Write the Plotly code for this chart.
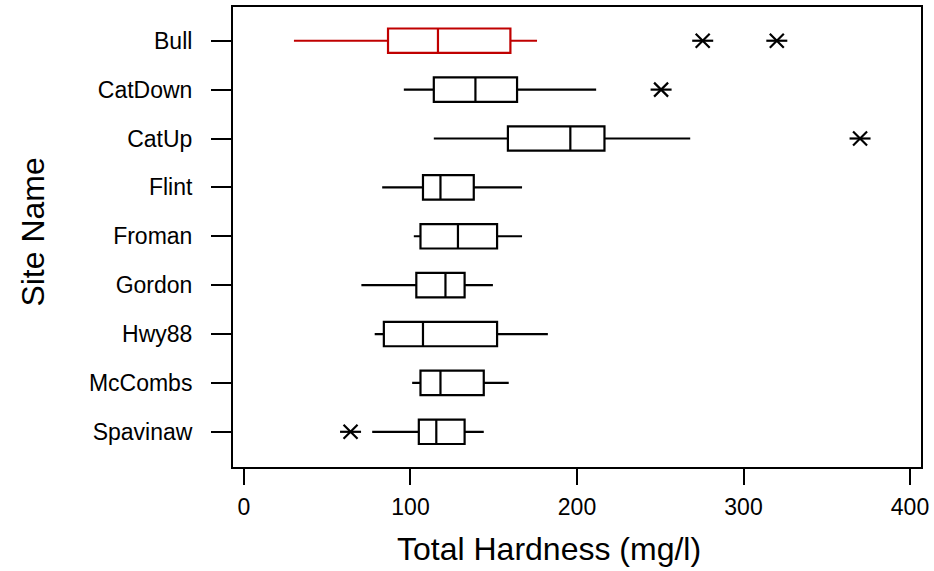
import plotly.graph_objects as go

sites = ["Bull", "CatDown", "CatUp", "Flint", "Froman", "Gordon", "Hwy88", "McCombs", "Spavinaw"]
lower_whisker = [30, 96, 114, 83, 102, 70.5, 78.5, 101, 77]
q1 = [86.5, 114, 158.5, 107.5, 106, 103.5, 84, 106, 105]
median = [116.5, 139, 196, 118, 128.5, 121, 107.5, 118, 115.5]
q3 = [160, 164, 216.5, 138, 152, 132.5, 152, 144, 132.5]
upper_whisker = [176, 211.5, 268, 167, 167, 149.5, 182.5, 159, 144]
outlier_sites = ["Bull", "Bull", "CatDown", "CatUp", "Spavinaw"]
outlier_values = [275.5, 320, 250.5, 370, 64]
box_colors = ["#C00000"] + ["#000000"] * 8

FONT = "Liberation Sans, Arial, sans-serif"

L, R, T, B = 233, 11, 5, 104
W, H = 934, 571

fig = go.Figure()
for i, s in enumerate(sites):
    fig.add_trace(go.Box(
        y=[s], orientation="h",
        q1=[q1[i]], median=[median[i]], q3=[q3[i]],
        lowerfence=[lower_whisker[i]], upperfence=[upper_whisker[i]],
        fillcolor="white", line=dict(color=box_colors[i], width=2.2),
        whiskerwidth=0, width=0.5, boxpoints=False,
        showlegend=False, hoverinfo="skip",
    ))

for sym in ["x-thin-open", "line-ew-open"]:
    fig.add_trace(go.Scatter(
        x=outlier_values, y=outlier_sites, mode="markers",
        marker=dict(symbol=sym, size=14 if sym == "x-thin-open" else 15,
                    color="black", line=dict(color="black", width=2.2)),
        showlegend=False, hoverinfo="skip",
    ))

pw = W - L - R
ph = H - T - B


def px_x(x):
    return (x - L) / pw


def px_y(y):
    return (H - B - y) / ph


fig.update_layout(
    width=W, height=H,
    margin=dict(l=L, r=R, t=T, b=B),
    plot_bgcolor="white", paper_bgcolor="white",
    font=dict(family=FONT, size=23, color="black"),
    xaxis=dict(
        range=[-6.6, 406.6], tickvals=[0, 100, 200, 300, 400],
        ticks="outside", ticklen=16, tickwidth=2, tickcolor="black",
        showline=True, linecolor="black", linewidth=2, mirror=True,
        showgrid=False, zeroline=False, ticklabelstandoff=2,
        ticklabeloverflow="allow",
        tickfont=dict(family=FONT, size=23),
    ),
    yaxis=dict(
        type="category", categoryorder="array", categoryarray=sites,
        range=[8.72, -0.69],
        ticks="outside", ticklen=20, tickwidth=2, tickcolor="black",
        showline=True, linecolor="black", linewidth=2, mirror=True,
        showgrid=False, zeroline=False, ticklabelstandoff=14,
        tickfont=dict(family=FONT, size=23),
    ),
    annotations=[
        dict(text="Total Hardness (mg/l)", x=px_x(550), y=px_y(549),
             xref="paper", yref="paper", xanchor="center", yanchor="middle",
             showarrow=False, font=dict(family=FONT, size=32)),
        dict(text="Site Name", x=px_x(32), y=px_y(231), textangle=-90,
             xref="paper", yref="paper", xanchor="center", yanchor="middle",
             showarrow=False, font=dict(family=FONT, size=32)),
    ],
)

fig.write_html("out.html")
